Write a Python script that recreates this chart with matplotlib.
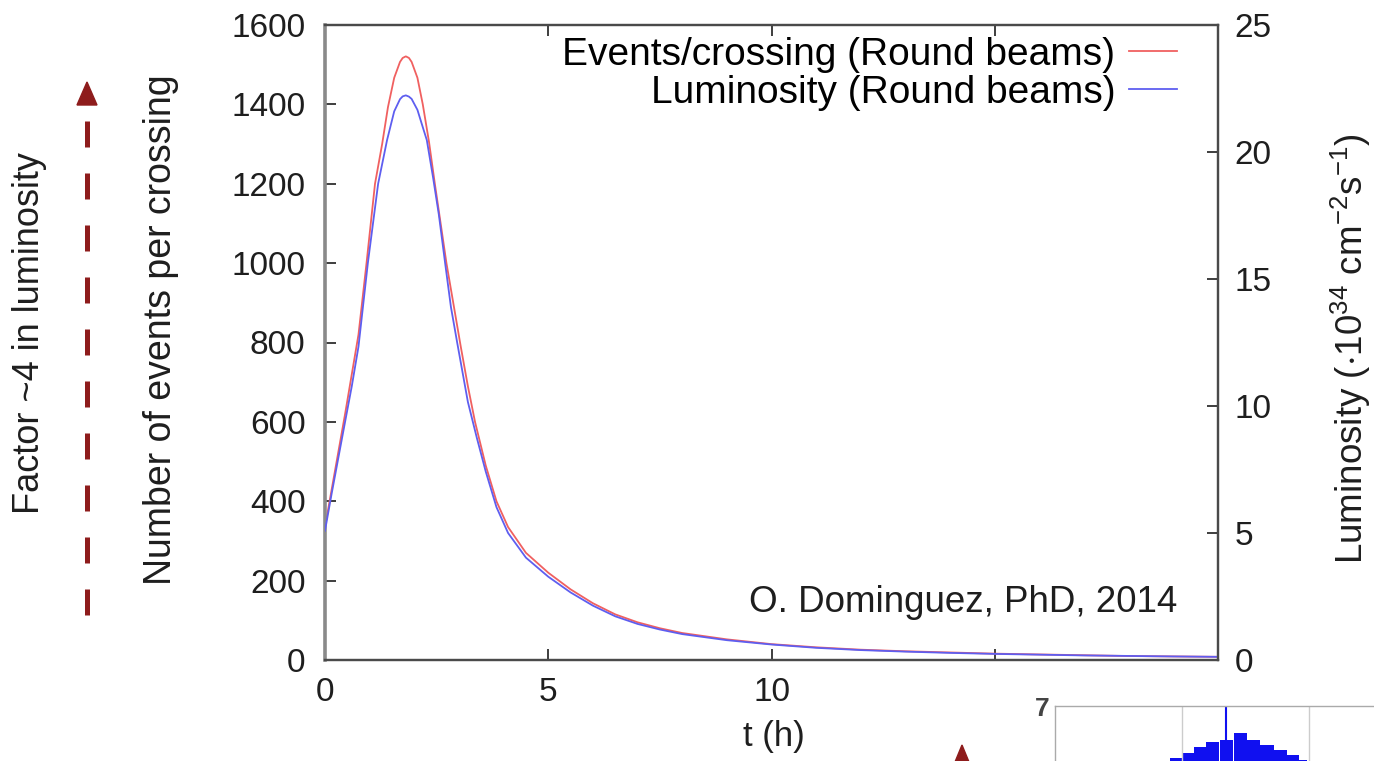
import matplotlib
matplotlib.use("Agg")
from matplotlib import pyplot as plt
from matplotlib.lines import Line2D
from matplotlib.patches import Polygon

plt.rcParams['font.family'] = ['Liberation Sans', 'DejaVu Sans']
plt.rcParams['mathtext.fontset'] = 'custom'
plt.rcParams['mathtext.rm'] = 'Liberation Sans'

# events per crossing (left axis)
t_events = [0, 0.15, 0.3, 0.45, 0.6, 0.75, 0.93, 1.12, 1.28, 1.41, 1.55, 1.68, 1.74,
            1.81, 1.88, 1.94, 2.07, 2.19, 2.33, 2.46, 2.59, 2.72, 2.88, 3.04, 3.2,
            3.36, 3.6, 3.84, 4.1, 4.5, 5.0, 5.5, 6.0, 6.5, 7.0, 7.5, 8.0, 9.0, 10,
            11, 12, 13, 14, 15, 16, 17, 18, 19, 20]
events = [335, 430, 525, 620, 720, 820, 1000, 1200, 1300, 1393, 1467, 1507, 1517,
          1521, 1517, 1507, 1467, 1400, 1305, 1200, 1100, 1000, 895, 790, 690,
          600, 490, 400, 335, 270, 220, 178, 143, 115, 95, 80, 68, 52, 40,
          32, 26, 22, 19, 16, 14, 12, 10, 9, 8]

# luminosity (right axis, 1e34 cm^-2 s^-1)
t_lumi = [0, 0.15, 0.3, 0.45, 0.6, 0.75, 0.96, 1.19, 1.39, 1.55, 1.68, 1.74, 1.81,
          1.88, 1.94, 2.07, 2.2, 2.28, 2.42, 2.55, 2.69, 2.82, 2.96, 3.2, 3.4, 3.6,
          3.84, 4.1, 4.5, 5.0, 5.5, 6.0, 6.5, 7.0, 7.5, 8.0, 9.0, 10, 11, 12, 13,
          14, 15, 16, 17, 18, 19, 20]
lumi = [5.09, 6.56, 7.97, 9.38, 10.78, 12.34, 15.63, 18.75, 20.47, 21.6, 22.08,
        22.19, 22.23, 22.18, 22.09, 21.66, 20.92, 20.47, 19.0, 17.53, 15.63, 13.9,
        12.5, 10.16, 8.75, 7.42, 6.02, 5.0, 4.03, 3.28, 2.66, 2.14, 1.72, 1.42,
        1.2, 1.02, 0.78, 0.61, 0.48, 0.39, 0.33, 0.28, 0.24, 0.21, 0.18, 0.16,
        0.14, 0.125]

x_ticks = [0, 5, 10, 15, 20]
x_ticklabels = ['0', '5', '10', '', '']
left_ticks = [0, 200, 400, 600, 800, 1000, 1200, 1400, 1600]
right_ticks = [0, 5, 10, 15, 20, 25]

# cropped histogram in the lower right corner
hist_x = [0.96, 1.06, 1.15, 1.24, 1.35, 1.46, 1.56, 1.67, 1.77, 1.87, 1.93]
hist_h = [5.11, 5.29, 5.51, 5.69, 5.76, 6.02, 5.76, 5.58, 5.40, 5.22, 5.04]
spike_x = 1.35

W, H = 1374, 761
fig = plt.figure(figsize=(W / 100, H / 100), dpi=100)

ax = fig.add_axes([325 / W, 1 - 660 / H, (1218 - 325) / W, (660 - 25) / H])
ax2 = ax.twinx()

red = '#f06060'
blue = '#5e5ef0'
txt = '#1e1e1e'

l1, = ax.plot(t_events, events, color=red, lw=1.3, label='Events/crossing (Round beams)')
l2, = ax2.plot(t_lumi, lumi, color=blue, lw=1.3, label='Luminosity (Round beams)')

ax.set_xlim(0, 20)
ax.set_ylim(0, 1600)
ax2.set_ylim(0, 25)
ax.set_xticks(x_ticks)
ax.set_xticklabels(x_ticklabels)
ax.set_yticks(left_ticks)
ax2.set_yticks(right_ticks)

ax.tick_params(axis='both', direction='in', length=8, width=1.2, labelsize=24,
               colors=txt, pad=14, top=True, right=False)
ax.tick_params(axis='x', pad=12)
ax2.tick_params(axis='y', direction='in', length=8, width=1.2, labelsize=24,
                colors=txt, pad=12)

for a in (ax, ax2):
    for s in a.spines.values():
        s.set_color('#4a4a4a')
        s.set_linewidth(1.6)
ax.spines['left'].set_color('#8a8a8a')
ax.spines['left'].set_linewidth(2.6)
ax2.spines['left'].set_visible(False)

ax.set_xlabel('t (h)', fontsize=25, color=txt)
ax.xaxis.set_label_coords(0.503, -0.095)
ax.set_ylabel('Number of events per crossing', fontsize=27, color=txt)
ax.yaxis.set_label_coords(-0.163, 0.52)
ax2.set_ylabel(r'Luminosity ($\mathregular{\cdot 10^{34}}$ cm$\mathregular{^{-2}}$s$\mathregular{^{-1}}$)',
               fontsize=26.5, color=txt)
ax2.yaxis.set_label_coords(1.124, 0.49)

ax2.legend(handles=[l1, l2], loc='upper right', frameon=False, markerfirst=False,
           fontsize=28, handlelength=1.25, handletextpad=0.35, labelspacing=0.05,
           borderaxespad=0.0, bbox_to_anchor=(0.972, 1.006))

ax.text(0.955, 0.09, 'O. Dominguez, PhD, 2014', transform=ax.transAxes,
        ha='right', va='center', fontsize=26.5, color=txt)

fig.text(30 / W, 1 - 333 / H, 'Factor ~4 in luminosity', rotation=90,
         ha='center', va='center', fontsize=26, color=txt)

# dashed arrow on the far left
dark_red = '#8e1c1c'
fig.add_artist(Line2D([87 / W, 87 / W], [1 - 615 / H, 1 - 108 / H],
                      transform=fig.transFigure, color=dark_red, lw=3.6,
                      ls=(0, (5.2, 5.2))))
fig.add_artist(Polygon([[77 / W, 1 - 105 / H], [97 / W, 1 - 105 / H], [87 / W, 1 - 82 / H]],
                       closed=True, transform=fig.transFigure, color=dark_red))
# second arrow head peeking at the bottom
fig.add_artist(Polygon([[955 / W, 1 - 762 / H], [969 / W, 1 - 762 / H], [962 / W, 1 - 745 / H]],
                       closed=True, transform=fig.transFigure, color=dark_red))

# cropped inset
ins = fig.add_axes([1055 / W, 0, (W - 1055) / W, (H - 706) / H])
ins.set_xlim(0, (W - 1055) / 127)
ins.set_ylim(7 - (H - 706) / 27.5, 7)
ins.bar(hist_x, hist_h, width=0.108, bottom=0, color='#1010f0', edgecolor='none')
ins.vlines(spike_x, 0, 7, color='#1010f0', lw=1.5)
ins.set_xticks([1, 2])
ins.set_xticklabels([])
ins.set_yticks([7])
ins.set_yticklabels(['7'])
ins.tick_params(length=0, labelsize=19, colors='#444444', pad=4)
for lab in ins.get_yticklabels():
    lab.set_fontweight('bold')
ins.grid(axis='x', color='#cccccc', lw=1)
for s in ins.spines.values():
    s.set_color('#aaaaaa')
    s.set_linewidth(1)
ins.spines['right'].set_visible(False)
ins.spines['bottom'].set_visible(False)

fig.savefig('out.png', dpi=100)
